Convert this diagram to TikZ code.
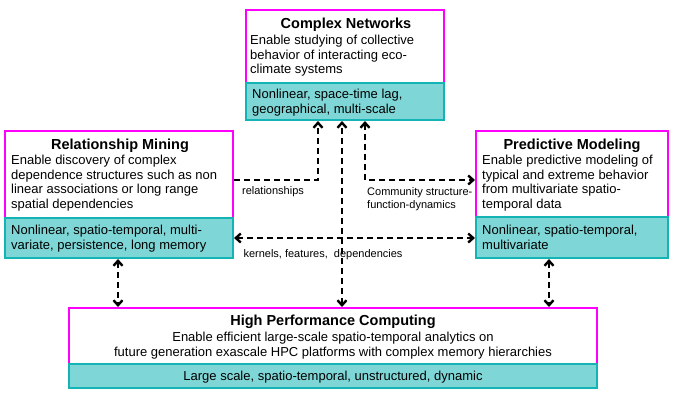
\documentclass[tikz,border=0pt]{standalone}
\usepackage{fontspec}
\setmainfont{Liberation Sans}
\usetikzlibrary{arrows.meta}
\definecolor{mag}{HTML}{FF00FF}
\definecolor{tfill}{HTML}{7FD6D6}
\definecolor{tdraw}{HTML}{14B4B4}
\begin{document}
\begin{tikzpicture}[x=1pt,y=-1pt,
  wbox/.style={draw=mag,line width=1.6pt,fill=white},
  tbox/.style={draw=tdraw,line width=1.6pt,fill=tfill},
  ttl/.style={font=\fontsize{14.5}{16}\selectfont\bfseries,inner sep=0},
  txt/.style={font=\fontsize{13}{14.5}\selectfont,inner sep=0,align=left},
  lab/.style={font=\fontsize{11}{13}\selectfont,inner sep=0,align=left},
  arr/.style={line width=2.4pt,dash pattern=on 6pt off 4pt,-{Straight Barb[length=5pt,width=9pt]}},
  darr/.style={arr,{Straight Barb[length=5pt,width=9pt]}-{Straight Barb[length=5pt,width=9pt]}}]
\useasboundingbox (0,0) rectangle (675,400);
% Complex Networks
\draw[wbox] (246,10) rectangle (444,83);
\draw[tbox] (246,83) rectangle (444,120);
\node[ttl] (cnt) at (346,25) {Complex Networks};
\node[txt,anchor=north west] (cnx) at (250,35) {Enable studying of collective\\behavior of interacting eco-\\climate systems};
\node[txt,anchor=north west] (cnb) at (252,89) {Nonlinear, space-time lag,\\geographical, multi-scale};
% Relationship Mining
\draw[wbox] (5,131) rectangle (233,218);
\draw[tbox] (5,218) rectangle (233,258);
\node[ttl] (rmt) at (120,146) {Relationship Mining};
\node[txt,anchor=north west] (rmx) at (11,155) {Enable discovery of complex\\dependence structures such as non\\linear associations or long range\\spatial dependencies};
\node[txt,anchor=north west] (rmb) at (11,225) {Nonlinear, spatio-temporal, multi-\\variate, persistence, long memory};
% Predictive Modeling
\draw[wbox] (476,131) rectangle (668,217);
\draw[tbox] (476,217) rectangle (668,258);
\node[ttl] (pmt) at (572,146) {Predictive Modeling};
\node[txt,anchor=north west] (pmx) at (482,155) {Enable predictive modeling of\\typical and extreme behavior\\from multivariate spatio-\\temporal data};
\node[txt,anchor=north west] (pmb) at (482,225) {Nonlinear, spatio-temporal,\\multivariate};
% HPC
\draw[wbox] (69,308) rectangle (597,364);
\draw[tbox] (69,364) rectangle (597,388);
\node[ttl] (hpt) at (333,322) {High Performance Computing};
\node[txt,align=center,anchor=north] (hpx) at (333,332) {Enable efficient large-scale spatio-temporal analytics on\\future generation exascale HPC platforms with complex memory hierarchies};
\node[txt] (hpb) at (333,377) {Large scale, spatio-temporal, unstructured, dynamic};
% anchors
\coordinate (a1) at (318,121);
\coordinate (a1c) at (318,180);
\coordinate (a1e) at (234,180);
\coordinate (a2) at (365,121);
\coordinate (a2c) at (365,180);
\coordinate (a2e) at (475,180);
\coordinate (m1) at (342,121);
\coordinate (m2) at (342,307);
\coordinate (h1) at (234,238);
\coordinate (h2) at (475,238);
\coordinate (l1) at (118,259);
\coordinate (l2) at (118,307);
\coordinate (r1) at (549,259);
\coordinate (r2) at (549,307);
\draw[arr] (a1e) -- (a1c) -- (a1);
\draw[darr] (a2) -- (a2c) -- (a2e);
\draw[darr] (m2) -- (m1);
\draw[darr] (h1) -- (h2);
\draw[darr] (l1) -- (l2);
\draw[darr] (r1) -- (r2);
\node[lab] (rel) at (273,192) {relationships};
\node[lab,anchor=north west] (com) at (367,187) {Community structure-\\function-dynamics};
\node[lab] (ker) at (323,255) {kernels, features,\ \ dependencies};
\end{tikzpicture}
\end{document}
